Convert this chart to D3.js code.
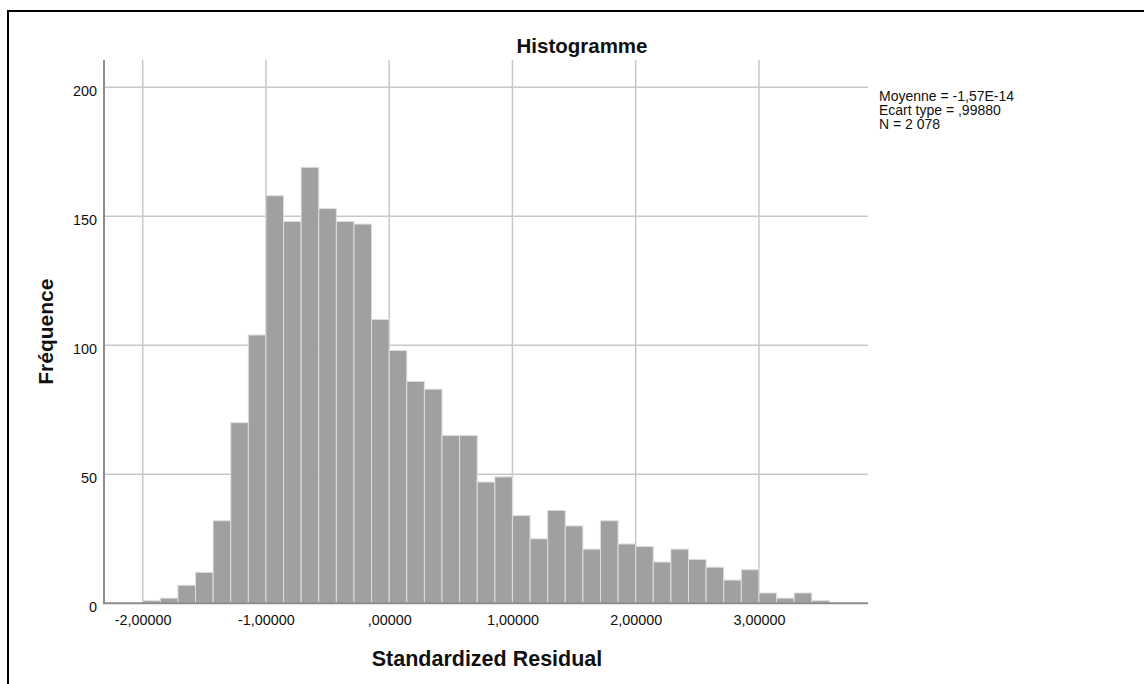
<!DOCTYPE html>
<html>
<head>
<meta charset="utf-8">
<script src="https://cdn.jsdelivr.net/npm/d3@7"></script>
<style>
  body { margin: 0; background: #fff; }
  svg { display: block; font-family: Arial, "Liberation Sans", sans-serif; }
</style>
</head>
<body>
<svg id="histogram" width="1144" height="684"></svg>
<script>
// counts per bin (bins of 1/7 starting at -2)
var binStart = -2,
    binWidth = 1 / 7;
var counts = [1, 2, 7, 12, 32, 70, 104, 158, 148, 169, 153, 148, 147, 110, 98, 86, 83, 65, 65,
              47, 49, 34, 25, 36, 30, 21, 32, 23, 22, 16, 21, 17, 14, 9, 13, 4, 2, 4, 1];

var xTicks = [-2, -1, 0, 1, 2, 3],
    xTickLabels = ["-2,00000", "-1,00000", ",00000", "1,00000", "2,00000", "3,00000"];
var yTicks = [0, 50, 100, 150, 200];

var statsLines = ["Moyenne = -1,57E-14", "Ecart type = ,99880", "N = 2 078"];

var svg = d3.select("#histogram");

// plot area in page pixels
var plotLeft = 104, plotRight = 868, plotTop = 60, plotBottom = 603.3;

var x = d3.scaleLinear().domain([-2.314, 3.885]).range([plotLeft, plotRight]);
var y = d3.scaleLinear().domain([0, 210.6]).range([plotBottom, plotTop]);

// outer frame (only top and left edges are visible)
svg.append("path")
    .attr("d", "M8,684 L8,11 L1144,11")
    .attr("fill", "none")
    .attr("stroke", "#000")
    .attr("stroke-width", 2);

// grid lines
var grid = svg.append("g");
grid.selectAll("line.v")
  .data(xTicks)
  .enter().append("line")
    .attr("class", "v")
    .attr("x1", function(d) { return x(d); })
    .attr("x2", function(d) { return x(d); })
    .attr("y1", plotTop)
    .attr("y2", plotBottom)
    .attr("stroke", "#c8c8c8")
    .attr("stroke-width", 1.5);
grid.selectAll("line.h")
  .data(yTicks.slice(1))
  .enter().append("line")
    .attr("class", "h")
    .attr("x1", plotLeft)
    .attr("x2", plotRight)
    .attr("y1", function(d) { return y(d); })
    .attr("y2", function(d) { return y(d); })
    .attr("stroke", "#c8c8c8")
    .attr("stroke-width", 1.5);

// bars
var bins = counts.map(function(c, i) {
  return {x0: binStart + i * binWidth, x1: binStart + (i + 1) * binWidth, n: c};
});
svg.append("g")
  .selectAll("rect")
  .data(bins)
  .enter().append("rect")
    .attr("x", function(d) { return x(d.x0); })
    .attr("y", function(d) { return y(d.n); })
    .attr("width", function(d) { return x(d.x1) - x(d.x0); })
    .attr("height", function(d) { return y(0) - y(d.n); })
    .attr("fill", "#a0a0a0")
    .attr("stroke", "#dedede")
    .attr("stroke-width", 1);

// x axis
var xAxis = svg.append("g")
    .attr("transform", "translate(0," + plotBottom + ")")
    .call(d3.axisBottom(x)
      .tickValues(xTicks)
      .tickFormat(function(d, i) { return xTickLabels[i]; })
      .tickSize(0)
      .tickPadding(11));
xAxis.select(".domain").remove();
xAxis.selectAll("text")
    .attr("font-family", "Arial, 'Liberation Sans', sans-serif")
    .attr("font-size", 14.4)
    .attr("fill", "#111");
svg.append("line")
    .attr("x1", plotLeft).attr("x2", plotRight)
    .attr("y1", plotBottom).attr("y2", plotBottom)
    .attr("stroke", "#8c8c8c")
    .attr("stroke-width", 2);

// y axis
var yAxis = svg.append("g")
    .attr("transform", "translate(" + plotLeft + ",0)")
    .call(d3.axisLeft(y)
      .tickValues(yTicks)
      .tickSize(0)
      .tickPadding(7));
yAxis.select(".domain").remove();
yAxis.selectAll("text")
    .attr("font-family", "Arial, 'Liberation Sans', sans-serif")
    .attr("font-size", 14.4)
    .attr("dy", "0.55em")
    .attr("fill", "#111");
svg.append("line")
    .attr("x1", plotLeft).attr("x2", plotLeft)
    .attr("y1", plotTop).attr("y2", plotBottom + 1)
    .attr("stroke", "#8c8c8c")
    .attr("stroke-width", 2);

// title and axis labels
svg.append("text")
    .attr("x", 582)
    .attr("y", 53)
    .attr("text-anchor", "middle")
    .attr("font-size", 20.5)
    .attr("font-weight", "bold")
    .attr("fill", "#111")
    .text("Histogramme");

svg.append("text")
    .attr("x", 487)
    .attr("y", 666)
    .attr("text-anchor", "middle")
    .attr("font-size", 21.5)
    .attr("font-weight", "bold")
    .attr("fill", "#111")
    .text("Standardized Residual");

svg.append("text")
    .attr("transform", "translate(53," + (plotTop + plotBottom) / 2 + ") rotate(-90)")
    .attr("text-anchor", "middle")
    .attr("font-size", 21)
    .attr("font-weight", "bold")
    .attr("fill", "#111")
    .text("Fréquence");

// summary statistics
svg.append("g")
  .selectAll("text")
  .data(statsLines)
  .enter().append("text")
    .attr("x", 879)
    .attr("y", function(d, i) { return 101 + i * 14; })
    .attr("font-size", 14)
    .attr("fill", "#111")
    .text(function(d) { return d; });
</script>
</body>
</html>
